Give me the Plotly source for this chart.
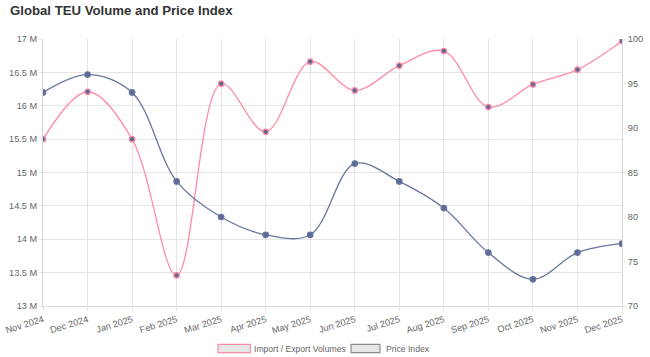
import plotly.graph_objects as go

months = ["Nov 2024", "Dec 2024", "Jan 2025", "Feb 2025", "Mar 2025", "Apr 2025", "May 2025",
          "Jun 2025", "Jul 2025", "Aug 2025", "Sep 2025", "Oct 2025", "Nov 2025", "Dec 2025"]
volumes = [15.5e6, 16.21e6, 15.5e6, 13.46e6, 16.33e6, 15.61e6, 16.66e6,
           16.23e6, 16.6e6, 16.82e6, 15.98e6, 16.32e6, 16.54e6, 16.97e6]
price_index = [94, 96, 94, 84, 80, 78, 78, 86, 84, 81, 76, 73, 76, 77]

left_tickvals = [13e6, 13.5e6, 14e6, 14.5e6, 15e6, 15.5e6, 16e6, 16.5e6, 17e6]
left_ticktext = ["13 M", "13.5 M", "14 M", "14.5 M", "15 M", "15.5 M", "16 M", "16.5 M", "17 M"]
right_tickvals = [70, 75, 80, 85, 90, 95, 100]
series_names = ["Import / Export Volumes", "Price Index"]

PINK = "rgb(255,140,165)"
BLUE = "rgb(104,117,158)"
MARK = "rgb(95,105,150)"
GRID = "rgb(229,229,229)"
AXIS = "rgb(215,215,215)"
TXT = "#666666"
FONT = "Liberation Sans, Arial, sans-serif"
TICK_SIZE = 9.2

x = list(range(len(months)))

fig = go.Figure()
fig.add_trace(go.Scatter(
    x=x, y=volumes, mode="lines+markers", name=series_names[0],
    line=dict(color=PINK, width=1.3, shape="spline", smoothing=1.0),
    marker=dict(size=5.5, color=MARK, line=dict(color=PINK, width=1.2)),
    showlegend=False, yaxis="y"))
fig.add_trace(go.Scatter(
    x=x, y=price_index, mode="lines+markers", name=series_names[1],
    line=dict(color=BLUE, width=1.3, shape="spline", smoothing=1.0),
    marker=dict(size=5.5, color=MARK, line=dict(color=BLUE, width=1.2)),
    showlegend=False, yaxis="y2"))

# custom legend (box style)
legend_items = [
    (series_names[0], PINK, 0.3022, 0.3582, 0.3610),
    (series_names[1], "rgb(140,140,140)", 0.5320, 0.5820, 0.5895),
]
for name, col, x0, x1, tx in legend_items:
    fig.add_shape(type="rect", xref="paper", yref="paper", x0=x0, x1=x1, y0=-0.1749, y1=-0.1434,
                  fillcolor="rgb(230,230,230)", line=dict(color=col, width=1.2))
    fig.add_annotation(text=name, xref="paper", yref="paper", x=tx, y=-0.1592,
                       xanchor="left", yanchor="middle", showarrow=False,
                       font=dict(family=FONT, size=8.6, color=TXT))

fig.update_layout(
    width=650, height=357,
    margin=dict(l=43, r=28, t=39, b=51),
    paper_bgcolor="white", plot_bgcolor="white",
    font=dict(family=FONT, size=TICK_SIZE, color=TXT),
    title=dict(text="<b>Global TEU Volume and Price Index</b>", x=10 / 650, xref="container",
               xanchor="left", y=0.985, yanchor="top", yref="container",
               font=dict(family=FONT, size=13.2, color="#333333")),
    xaxis=dict(range=[0, len(months) - 1], tickvals=x, ticktext=months, tickangle=-17,
               showgrid=True, gridcolor=GRID, gridwidth=1, zeroline=False, automargin=False,
               showline=True, linecolor=AXIS, ticks="outside",
               ticklen=4, tickcolor=GRID, tickfont=dict(size=TICK_SIZE, color=TXT)),
    yaxis=dict(range=[13e6, 17e6], tickvals=left_tickvals, ticktext=left_ticktext,
               showgrid=True, gridcolor=GRID, zeroline=False, showline=True, automargin=False,
               linecolor=AXIS, ticks="outside", ticklen=3, tickcolor=GRID,
               tickfont=dict(size=TICK_SIZE, color=TXT)),
    yaxis2=dict(range=[70, 100], tickvals=right_tickvals, overlaying="y", side="right",
                showgrid=False, zeroline=False, showline=True, linecolor=AXIS, automargin=False,
                ticks="outside", ticklen=3, tickcolor=GRID, tickfont=dict(size=TICK_SIZE, color=TXT)),
    showlegend=False,
)

fig.write_html("out.html", config={"displayModeBar": False},
               post_script="document.body.style.margin='0';document.body.style.overflow='hidden';")
